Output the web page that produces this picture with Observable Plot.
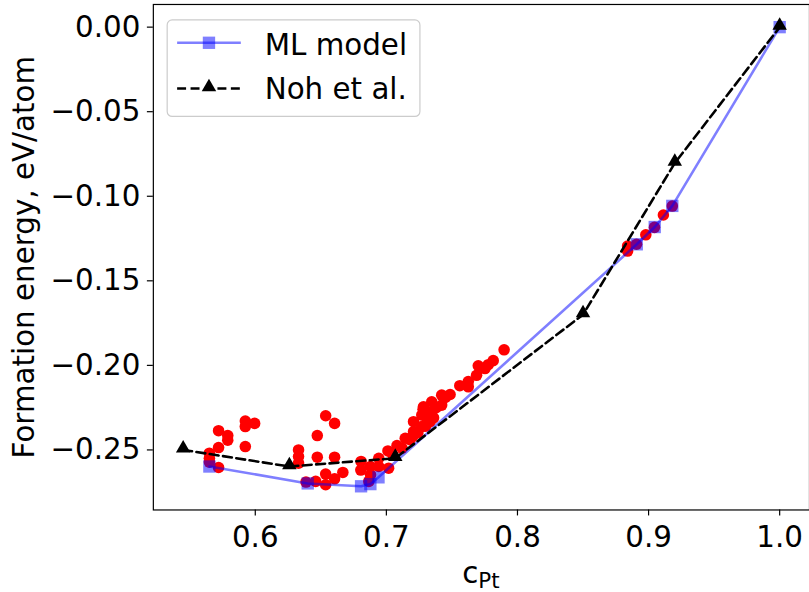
<!DOCTYPE html>
<html>
<head>
<meta charset="utf-8">
<script src="https://cdn.jsdelivr.net/npm/d3@7"></script>
<script src="https://cdn.jsdelivr.net/npm/@observablehq/plot@0.6"></script>
<style>
  html, body { margin: 0; padding: 0; background: #fff; overflow: hidden; }
  #chart { width: 809px; height: 592px; overflow: hidden; }
</style>
</head>
<body>
<div id="chart"></div>
<script>
// ---- data ----
const mlX = [0.565, 0.640, 0.6807, 0.6878, 0.694, 0.891, 0.9047, 0.9181, 1.0];
const mlY = [-0.2598, -0.2698, -0.2715, -0.2702, -0.2662, -0.1284, -0.1182, -0.1057, 0.0];

const nohX = [0.545, 0.626, 0.7068, 0.850, 0.920, 1.0];
const nohY = [-0.250, -0.2598, -0.2549, -0.170, -0.0804, 0.0];

const dotX = [
  0.565, 0.565, 0.565, 0.572, 0.572, 0.572, 0.579, 0.579, 0.5924, 0.5924, 0.5995, 0.5924,
  0.633, 0.633, 0.633, 0.6473, 0.6537, 0.6605, 0.6473, 0.6605, 0.6668, 0.6537, 0.6605, 0.6537, 0.6461, 0.6387,
  0.6807, 0.6879, 0.6879, 0.6942, 0.6942, 0.6866, 0.7012, 0.7017, 0.6805,
  0.7081, 0.7144, 0.7207, 0.7207, 0.727, 0.727, 0.7283, 0.7346, 0.7346, 0.7333,
  0.7422, 0.7486, 0.7422, 0.7625, 0.7688, 0.7752, 0.7815, 0.7898, 0.7701, 0.7625, 0.7777,
  0.705, 0.712, 0.718, 0.724, 0.730, 0.736, 0.728, 0.738, 0.745, 0.7200, 0.7300, 0.7560,
  0.884, 0.884, 0.8979, 0.9113, 0.9181, 0.9045, 0.8908
];
const dotY = [
  -0.2519, -0.2549, -0.2572, -0.2604, -0.2386, -0.2486, -0.2415, -0.2443, -0.2329, -0.2362, -0.2343, -0.2480,
  -0.2500, -0.2539, -0.2578, -0.2415, -0.2298, -0.2343, -0.2543, -0.2543, -0.2633, -0.2643, -0.2671, -0.2706, -0.2686, -0.2690,
  -0.2568, -0.2598, -0.2647, -0.2549, -0.2598, -0.2686, -0.2506, -0.2608, -0.2619,
  -0.2474, -0.2431, -0.2392, -0.2333, -0.2362, -0.2294, -0.2245, -0.2215, -0.2274, -0.2333,
  -0.2176, -0.2172, -0.2235, -0.2127, -0.2059, -0.2019, -0.1972, -0.1908, -0.2002, -0.2096, -0.1996,
  -0.2530, -0.2490, -0.2440, -0.2400, -0.2360, -0.2310, -0.2260, -0.2250, -0.2190, -0.2420, -0.2300, -0.2120,
  -0.1294, -0.1324, -0.1228, -0.1111, -0.1058, -0.1184, -0.1284
];

const xTicks = [0.6, 0.7, 0.8, 0.9, 1.0];
const yTicks = [-0.25, -0.20, -0.15, -0.10, -0.05, 0.00];
const yLabel = "Formation energy, eV/atom";
const xLabelMain = "c";
const xLabelSub = "Pt";
const legendLabels = ["ML model", "Noh et al."];

// ---- tables ----
const ml = mlX.map((x, i) => ({x, y: mlY[i]}));
const noh = nohX.map((x, i) => ({x, y: nohY[i]}));
const dots = dotX.map((x, i) => ({x, y: dotY[i]}));

const FONT = "DejaVu Sans";
const FS = 29.5;

const svg = Plot.plot({
  width: 813,
  height: 592,
  marginLeft: 153.6,
  marginRight: 0,
  marginTop: 4,
  marginBottom: 80,
  style: {fontFamily: FONT, fontSize: FS + "px", background: "white", color: "black", overflow: "visible"},
  x: {domain: [0.52225, 1.02275]},
  y: {domain: [-0.2855, 0.0134]},
  marks: [
    Plot.dot(dots, {x: "x", y: "y", r: 5.8, fill: "red", stroke: "none"}),
    Plot.line(ml, {x: "x", y: "y", stroke: "blue", strokeOpacity: 0.5, strokeWidth: 2.6}),
    Plot.dot(ml, {x: "x", y: "y", symbol: "square", r: 7, fill: "blue", fillOpacity: 0.5, stroke: "none"}),
    Plot.line(noh, {x: "x", y: "y", stroke: "black", strokeWidth: 2.6, strokeDasharray: "9,4.5"}),
    Plot.dot(noh, {x: "x", y: "y", symbol: "triangle", r: 5.4, fill: "black", stroke: "none", dy: -1.5}),
    Plot.frame({stroke: "black", strokeWidth: 1.2}),
    Plot.axisX({ticks: xTicks, tickFormat: ".1f", tickSize: 6, tickPadding: 10, label: null, strokeWidth: 1.2}),
    Plot.axisY({ticks: yTicks, tickFormat: ".2f", tickSize: 6, tickPadding: 7, label: null, strokeWidth: 1.2}),
    Plot.text([yLabel], {frameAnchor: "left", text: d => d, rotate: -90, dx: -129, textAnchor: "middle", lineAnchor: "middle", fill: "black"})
  ]
});

const s = d3.select(svg);

// x label with subscript
const xl = s.append("text")
  .attr("x", (153.6 + 813) / 2)
  .attr("y", 586)
  .attr("text-anchor", "middle")
  .attr("font-family", FONT)
  .attr("font-size", FS)
  .attr("fill", "black");
xl.append("tspan").text(xLabelMain);
xl.append("tspan").attr("font-size", 21.5).attr("dy", 4.7).text(xLabelSub);

// legend
const lg = s.append("g").attr("font-family", FONT).attr("font-size", FS).attr("text-anchor", "start");
lg.append("rect").attr("x", 168).attr("y", 20).attr("width", 254).attr("height", 97)
  .attr("rx", 5).attr("fill", "white").attr("fill-opacity", 0.8)
  .attr("stroke", "#cccccc").attr("stroke-width", 1.2);
// row 1
lg.append("line").attr("x1", 178).attr("x2", 242).attr("y1", 43).attr("y2", 43)
  .attr("stroke", "blue").attr("stroke-opacity", 0.5).attr("stroke-width", 2.6);
lg.append("path").attr("transform", "translate(210,43)")
  .attr("d", d3.symbol(d3.symbolSquare, Math.PI * 49)()).attr("fill", "blue").attr("fill-opacity", 0.5);
lg.append("text").attr("x", 266).attr("y", 55).attr("fill", "black").attr("text-anchor", "start").text(legendLabels[0]);
// row 2
lg.append("line").attr("x1", 178).attr("x2", 242).attr("y1", 89).attr("y2", 89)
  .attr("stroke", "black").attr("stroke-width", 2.6).attr("stroke-dasharray", "9,4.5");
lg.append("path").attr("transform", "translate(210,87.5)")
  .attr("d", d3.symbol(d3.symbolTriangle, Math.PI * 5.4 * 5.4)()).attr("fill", "black");
lg.append("text").attr("x", 266).attr("y", 100).attr("fill", "black").attr("text-anchor", "start").text(legendLabels[1]);

document.getElementById("chart").appendChild(svg);
</script>
</body>
</html>
